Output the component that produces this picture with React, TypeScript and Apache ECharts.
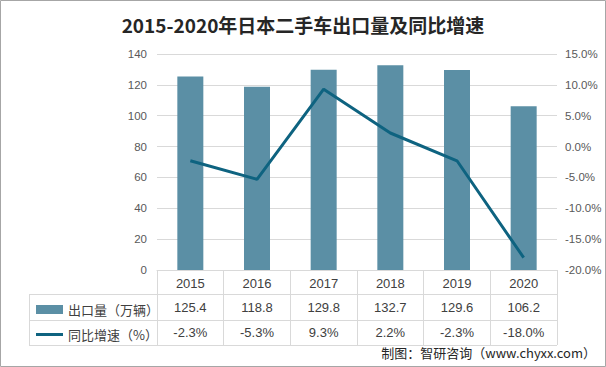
import React, { useEffect, useRef } from "react";
import * as echarts from "echarts";

const years = ["2015", "2016", "2017", "2018", "2019", "2020"];
const exportVolume = [125.4, 118.8, 129.8, 132.7, 129.6, 106.2];
const growthRate = [-2.3, -5.3, 9.3, 2.2, -2.3, -18.0];
const leftTicks = { min: 0, max: 140, interval: 20 };
const rightTicks = { min: -20, max: 15, interval: 5 };
const barName = "出口量（万辆）";
const lineName = "同比增速（%）";

const FONT = "Noto Sans CJK SC";
const NUM_FONT = "Liberation Sans";

export default function App() {
  const ref = useRef<HTMLDivElement>(null);
  useEffect(() => {
    if (!ref.current) return;
    const chart = echarts.init(ref.current, null, { renderer: "svg" });
    const gridLeft = 157, gridRight = 557, gridTop = 54, gridBottom = 270;
    const tableLeft = 29;
    const lineStyle = { stroke: "#d9d9d9", lineWidth: 1 };
    const label = { color: "#404040", fontSize: 13, margin: 7, fontFamily: NUM_FONT };
    chart.setOption({
      animation: false,
      backgroundColor: "#ffffff",
      textStyle: { fontFamily: FONT },
      title: {
        text: "2015-2020年日本二手车出口量及同比增速",
        left: "center",
        top: 10,
        textStyle: { fontSize: 19, fontWeight: "bold", color: "#262626", fontFamily: FONT },
      },
      grid: { left: gridLeft, right: 606 - gridRight, top: gridTop, bottom: 367 - gridBottom },
      legend: [
        {
          data: [barName],
          left: 31,
          top: 298,
          itemWidth: 27,
          itemHeight: 9,
          icon: "rect",
          textStyle: { fontSize: 13, color: "#404040", fontFamily: FONT },
        },
        {
          data: [lineName],
          left: 31,
          top: 323,
          itemWidth: 27,
          itemHeight: 3,
          icon: "rect",
          textStyle: { fontSize: 13, color: "#404040", fontFamily: FONT },
        },
      ],
      xAxis: [
        {
          type: "category",
          data: years,
          position: "bottom",
          axisLine: { show: true, lineStyle: { color: "#d9d9d9" } },
          axisTick: { show: true, interval: 0, length: 75, lineStyle: { color: "#d9d9d9" } },
          axisLabel: label,
        },
        {
          type: "category",
          data: exportVolume.map((v) => v.toFixed(1)),
          position: "bottom",
          offset: 24,
          axisLine: { show: false },
          axisTick: { show: false },
          axisLabel: label,
        },
        {
          type: "category",
          data: growthRate.map((v) => v.toFixed(1) + "%"),
          position: "bottom",
          offset: 49,
          axisLine: { show: false },
          axisTick: { show: false },
          axisLabel: label,
        },
      ],
      yAxis: [
        {
          type: "value",
          ...leftTicks,
          axisLine: { show: false },
          axisTick: { show: false },
          splitLine: { lineStyle: { color: "#d9d9d9" } },
          axisLabel: { color: "#595959", fontSize: 11.5, margin: 10, fontFamily: NUM_FONT },
        },
        {
          type: "value",
          ...rightTicks,
          position: "right",
          axisLine: { show: false },
          axisTick: { show: false },
          splitLine: { show: false },
          axisLabel: {
            color: "#595959",
            fontSize: 11.5,
            margin: 8,
            fontFamily: NUM_FONT,
            formatter: (v: number) => v.toFixed(1) + "%",
          },
        },
      ],
      series: [
        {
          name: barName,
          type: "bar",
          data: exportVolume,
          barWidth: 26,
          itemStyle: { color: "#5b8fa5" },
        },
        {
          name: lineName,
          type: "line",
          yAxisIndex: 1,
          data: growthRate,
          showSymbol: false,
          symbol: "none",
          lineStyle: { width: 3, color: "#0e6380" },
          itemStyle: { color: "#0e6380" },
        },
      ],
      graphic: [
        { type: "line", shape: { x1: tableLeft, y1: 294.5, x2: gridRight, y2: 294.5 }, style: lineStyle, silent: true },
        { type: "line", shape: { x1: tableLeft, y1: 320.5, x2: gridRight, y2: 320.5 }, style: lineStyle, silent: true },
        { type: "line", shape: { x1: tableLeft, y1: 345.5, x2: gridRight, y2: 345.5 }, style: lineStyle, silent: true },
        { type: "line", shape: { x1: tableLeft + 0.5, y1: 294.5, x2: tableLeft + 0.5, y2: 345.5 }, style: lineStyle, silent: true },
        {
          type: "rect",
          shape: { x: 0.5, y: 0.5, width: 605, height: 366 },
          style: { fill: "none", stroke: "#a6a6a6", lineWidth: 1 },
          silent: true,
        },
        {
          type: "text",
          right: 10,
          top: 346,
          style: { text: "制图：智研咨询（www.chyxx.com）", fontSize: 13, fill: "#262626", fontFamily: FONT },
          silent: true,
        },
      ],
    });
    return () => chart.dispose();
  }, []);
  return (
    <div
      ref={ref}
      style={{ position: "absolute", left: 0, top: 0, width: 606, height: 367 }}
    />
  );
}
